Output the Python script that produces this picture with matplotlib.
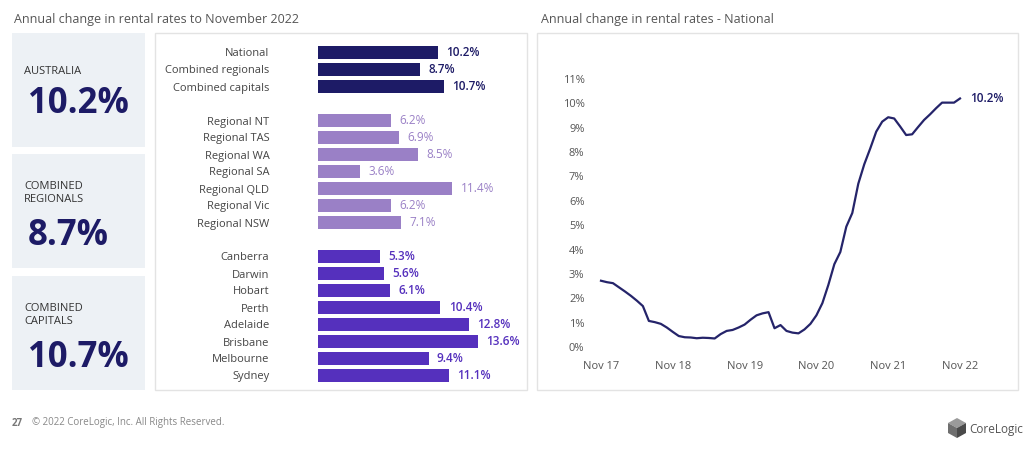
import numpy as np
import matplotlib
matplotlib.use("Agg")
import matplotlib.pyplot as plt
from matplotlib.patches import Rectangle, Polygon

plt.rcParams['font.family'] = ['Open Sans', 'DejaVu Sans']

#   ///////   data   ///////
kpi_labels = ["AUSTRALIA", "COMBINED\nREGIONALS", "COMBINED\nCAPITALS"]
kpi_values = ["10.2%", "8.7%", "10.7%"]

top_names = ["National", "Combined regionals", "Combined capitals"]
top_vals = [10.2, 8.7, 10.7]
reg_names = ["Regional NT", "Regional TAS", "Regional WA", "Regional SA",
             "Regional QLD", "Regional Vic", "Regional NSW"]
reg_vals = [6.2, 6.9, 8.5, 3.6, 11.4, 6.2, 7.1]
cap_names = ["Canberra", "Darwin", "Hobart", "Perth", "Adelaide",
             "Brisbane", "Melbourne", "Sydney"]
cap_vals = [5.3, 5.6, 6.1, 10.4, 12.8, 13.6, 9.4, 11.1]

# monthly national annual change, Nov 17 .. Nov 22
national = [2.72, 2.66, 2.62, 2.45, 2.28, 2.10, 1.90, 1.68, 1.07, 1.02,
            0.95, 0.80, 0.62, 0.45, 0.40, 0.39, 0.36, 0.38, 0.37, 0.35,
            0.53, 0.66, 0.70, 0.80, 0.92, 1.12, 1.30, 1.38, 1.43, 0.77,
            0.90, 0.66, 0.59, 0.56, 0.72, 0.95, 1.30, 1.80, 2.55, 3.40,
            3.90, 4.94, 5.50, 6.70, 7.50, 8.15, 8.84, 9.25, 9.43, 9.38,
            9.05, 8.70, 8.73, 9.03, 9.32, 9.55, 9.80, 10.03, 10.03, 10.03,
            10.20]
year_ticks = ["Nov 17", "Nov 18", "Nov 19", "Nov 20", "Nov 21", "Nov 22"]
pct_ticks = list(range(0, 12))

NAVY = "#1d1b66"
LILAC = "#9a80c6"
PURPLE = "#5530bd"
GREY = "#555555"
W, H = 1024, 449


def fr(x0, y0, x1, y1):
    """pixel box (top-left origin) -> figure fraction rect"""
    return [x0 / W, 1 - y1 / H, (x1 - x0) / W, (y1 - y0) / H]


fig = plt.figure(figsize=(W / 100, H / 100), dpi=100)
bg = fig.add_axes([0, 0, 1, 1])
bg.set_xlim(0, W)
bg.set_ylim(H, 0)
bg.axis("off")

#   ///////   titles   ///////
bg.text(14, 20, "Annual change in rental rates to November 2022", fontsize=9,
        color=GREY, va="center")
bg.text(541, 19, "Annual change in rental rates - National", fontsize=9,
        color=GREY, va="center")

#   ///////   KPI boxes   ///////
boxes = [(33, 147), (154, 268), (276, 390)]
for (t, b), lab, val in zip(boxes, kpi_labels, kpi_values):
    bg.add_patch(Rectangle((12, t), 133, b - t, color="#edf1f5", lw=0))
    nlines = lab.count("\n") + 1
    ly = t + 39 if nlines == 1 else t + 39
    bg.text(24, ly, lab, fontsize=8, color="#333333", va="center",
            linespacing=1.3)
    vy = t + 71 if nlines == 1 else t + 82
    bg.text(28, vy, val, fontsize=25, fontweight="bold", color=NAVY,
            va="center")

#   ///////   panels   ///////
bg.add_patch(Rectangle((155, 33), 372, 357, fill=False, ec="#e3e3e3", lw=1))
bg.add_patch(Rectangle((537, 33), 481, 357, fill=False, ec="#e3e3e3", lw=1))

#   ///////   bar chart   ///////
names = top_names + [""] + reg_names + [""] + cap_names
vals = top_vals + [np.nan] + reg_vals + [np.nan] + cap_vals
cols = [NAVY] * 3 + ["none"] + [LILAC] * 7 + ["none"] + [PURPLE] * 8
rows = np.arange(len(names))

axb = fig.add_axes(fr(318, 40, 520, 385))
axb.barh(rows, np.nan_to_num(vals), height=0.8, color=cols)
axb.set_xlim(0, 202 / 11.76)
axb.set_ylim((385 - 52.5) / 17, (40 - 52.5) / 17)
axb.set_yticks(rows)
axb.set_yticklabels(names, fontsize=8, color="#444444")
axb.tick_params(axis="y", length=0, pad=35)
axb.set_xticks([])
for s in axb.spines.values():
    s.set_visible(False)
axb.patch.set_alpha(0)
for r, v, c in zip(rows, vals, cols):
    if np.isnan(v):
        continue
    axb.annotate(f"{v:.1f}%", (v, r), xytext=(6, 0), textcoords="offset points",
                 va="center", ha="left", fontsize=8.5, color=c,
                 fontweight="normal" if c == LILAC else "semibold")

#   ///////   line chart   ///////
px_month = (960 - 601) / 60
px_pct = (347 - 79) / 11
axl = fig.add_axes(fr(590, 60, 1000, 355))
months = np.arange(len(national))
axl.plot(months, national, color="#25246a", lw=1.6, solid_joinstyle="round")
axl.set_xlim((590 - 601) / px_month, (1000 - 601) / px_month)
axl.set_ylim((347 - 355) / px_pct, (347 - 60) / px_pct)
axl.set_xticks(np.arange(0, 61, 12))
axl.set_xticklabels(year_ticks, fontsize=8, color=GREY)
axl.set_yticks(pct_ticks)
axl.set_yticklabels([f"{p}%" for p in pct_ticks], fontsize=8, color=GREY)
axl.tick_params(length=0, pad=4)
for s in axl.spines.values():
    s.set_visible(False)
axl.patch.set_alpha(0)
axl.annotate(f"{national[-1]:.1f}%", (months[-1], national[-1]), xytext=(7, 0),
             textcoords="offset points", va="center", fontsize=8.5,
             fontweight="semibold", color=NAVY)

#   ///////   footer   ///////
bg.text(12, 423, "27", fontsize=7, fontweight="bold", color="#777777",
        va="center")
bg.text(32, 423, "\u00a9 2022 CoreLogic, Inc. All Rights Reserved.", fontsize=7,
        color="#888888", va="center")
cx, cy = 957, 428
bg.add_patch(Polygon([(cx, cy - 10), (cx + 9, cy - 5), (cx, cy), (cx - 9, cy - 5)],
                     color="#9a9a9a", lw=0))
bg.add_patch(Polygon([(cx - 9, cy - 5), (cx, cy), (cx, cy + 10), (cx - 9, cy + 5)],
                     color="#6f6f6f", lw=0))
bg.add_patch(Polygon([(cx, cy), (cx + 9, cy - 5), (cx + 9, cy + 5), (cx, cy + 10)],
                     color="#4a4a4a", lw=0))
bg.text(969, 429, "CoreLogic", fontsize=8.5, color="#555555", va="center")

fig.savefig("out.png", dpi=100)
